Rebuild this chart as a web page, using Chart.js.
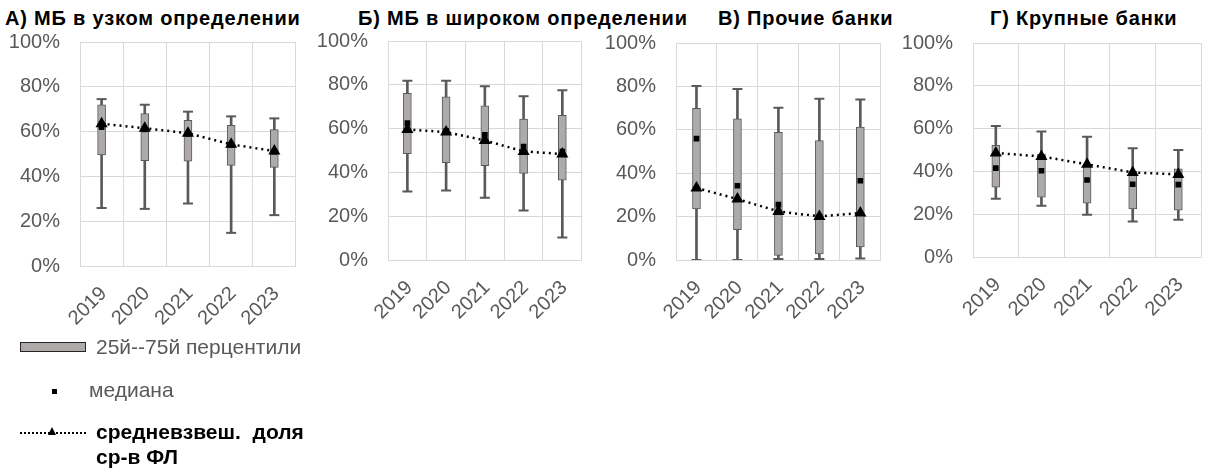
<!DOCTYPE html>
<html>
<head>
<meta charset="utf-8">
<script src="https://cdn.jsdelivr.net/npm/chart.js@4"></script>
<style>
  body { margin: 0; background: #fff; width: 1218px; height: 472px; position: relative; overflow: hidden;
         font-family: "Liberation Sans", Arial, sans-serif; }
  canvas { position: absolute; top: 0; }
  .ttl { position: absolute; top: 8px; font-weight: bold; font-size: 20px; line-height: 20px; letter-spacing: 0.8px;
         color: #000; white-space: nowrap; }
  .lg { position: absolute; font-size: 21px; line-height: 24px; color: #595959; white-space: nowrap; }
  .sw { position: absolute; }
</style>
</head>
<body>
<div class="ttl" style="left:5px">А) МБ в узком определении</div>
<div class="ttl" style="left:358px">Б) МБ в широком определении</div>
<div class="ttl" style="left:718px">В) Прочие банки</div>
<div class="ttl" style="left:990px">Г) Крупные банки</div>

<canvas id="cA" width="308" height="340" style="left:0px"></canvas>
<canvas id="cB" width="288" height="340" style="left:308px"></canvas>
<canvas id="cC" width="298" height="340" style="left:596px"></canvas>
<canvas id="cD" width="319" height="340" style="left:893px"></canvas>

<!-- легенда -->
<div class="sw" style="left:20px;top:342px;width:64px;height:8px;background:#aeaaaa;border:1.5px solid #262626"></div>
<div class="lg" style="left:96px;top:335px">25й--75й перцентили</div>
<div class="sw" style="left:52px;top:389px;width:5px;height:5px;background:#000"></div>
<div class="lg" style="left:89px;top:378px">медиана</div>
<div class="sw" style="left:20px;top:432px;width:66px;border-top:2px dotted #000"></div>
<div class="sw" style="left:48px;top:427px;width:0;height:0;border-left:4.5px solid transparent;border-right:4.5px solid transparent;border-bottom:8px solid #000"></div>
<div class="lg" style="left:96px;top:419px;color:#000;font-weight:bold;line-height:25px">средневзвеш.&nbsp; доля<br>ср-в ФЛ</div>

<script>
// годы
const years = ['2019', '2020', '2021', '2022', '2023'];

// А) МБ в узком определении
const aMin  = [25.9, 25.5, 27.9, 14.8, 22.7];
const aQ1   = [49.6, 47.0, 46.8, 44.9, 44.0];
const aQ3   = [71.9, 68.1, 65.0, 62.8, 60.9];
const aMax  = [74.5, 72.0, 68.9, 66.8, 65.9];
const aMed  = [62.0, 61.0, 59.0, 54.0, 51.0];
const aMean = [63.5, 61.5, 59.3, 54.3, 51.3];

// Б) МБ в широком определении
const bMin  = [31.3, 31.7, 28.4, 22.6, 10.3];
const bQ1   = [48.5, 44.4, 43.1, 39.5, 36.5];
const bQ3   = [76.1, 74.5, 70.4, 64.3, 66.1];
const bMax  = [81.9, 81.8, 79.3, 74.8, 77.5];
const bMed  = [62.5, 59.0, 57.1, 51.8, 49.5];
const bMean = [59.6, 58.4, 54.6, 49.6, 48.4];

// В) Прочие банки
const cMin  = [0.0, 0.0, 0.5, 0.5, 0.7];
const cQ1   = [23.5, 14.0, 2.1, 2.8, 6.0];
const cQ3   = [69.9, 65.1, 58.8, 55.0, 61.3];
const cMax  = [80.2, 78.8, 70.2, 74.3, 74.0];
const cMed  = [55.9, 34.2, 25.5, 20.0, 36.5];
const cMean = [33.2, 28.1, 22.4, 20.1, 21.7];

// Г) Крупные банки
const dMin  = [27.2, 23.9, 19.8, 16.6, 17.4];
const dQ1   = [32.6, 27.9, 25.2, 22.5, 21.9];
const dQ3   = [52.2, 48.0, 42.5, 40.0, 41.2];
const dMax  = [61.2, 58.7, 56.2, 50.8, 50.0];
const dMed  = [41.5, 40.3, 36.0, 34.0, 33.8];
const dMean = [48.6, 47.0, 43.3, 39.5, 38.6];

const yTickValues = [0, 20, 40, 60, 80, 100];

const FONT = '"Liberation Sans", Arial, sans-serif';
const GRID = '#d9d9d9';
const DARK = '#595959';

function makePanel(id, top, bottom, mins, q1, q3, maxs, med, mean) {
  const H = 340;
  const pairs = (lo, hi) => lo.map((v, i) => [v, hi[i]]);
  return new Chart(document.getElementById(id), {
    type: 'bar',
    data: {
      labels: years,
      datasets: [
        { type: 'line', data: mean, order: 0, borderColor: '#000', borderWidth: 2.5,
          borderDash: [2, 4], pointStyle: 'triangle', pointRadius: 7,
          pointBackgroundColor: '#000', pointBorderColor: '#000', pointBorderWidth: 0 },
        { type: 'line', data: med, order: 1, showLine: false, pointStyle: 'rect',
          pointRadius: 4, pointBackgroundColor: '#000', pointBorderWidth: 0 },
        { type: 'line', data: maxs, order: 2, showLine: false, pointStyle: 'line',
          pointRadius: 5, pointBorderColor: DARK, pointBorderWidth: 2 },
        { type: 'line', data: mins, order: 2, showLine: false, pointStyle: 'line',
          pointRadius: 5, pointBorderColor: DARK, pointBorderWidth: 2 },
        { data: pairs(q1, q3), order: 3, grouped: false, barThickness: 8,
          backgroundColor: '#aeaaaa', borderColor: DARK, borderWidth: 1, borderSkipped: false },
        { data: pairs(mins, maxs), order: 4, grouped: false, barThickness: 2,
          backgroundColor: DARK, borderWidth: 0 }
      ]
    },
    options: {
      responsive: false,
      animation: false,
      layout: { padding: { top: top, right: 1, left: 0, bottom: 0 } },
      plugins: { legend: { display: false }, tooltip: { enabled: false } },
      scales: {
        x: {
          grid: { color: GRID, drawTicks: false, offset: true },
          border: { color: GRID },
          ticks: { color: DARK, font: { family: FONT, size: 20 }, minRotation: 45, maxRotation: 45,
                   padding: 16, labelOffset: 2 },
          afterFit: (s) => { s.height = H - bottom; }
        },
        y: {
          min: 0, max: 100,
          afterBuildTicks: (s) => { s.ticks = yTickValues.map(v => ({ value: v })); },
          grid: { color: GRID, drawTicks: false },
          border: { color: GRID },
          ticks: { color: DARK, font: { family: FONT, size: 20 }, padding: 20,
                   callback: (v) => v + '%' },
          afterFit: (s) => { s.width = 80; }
        }
      }
    }
  });
}

makePanel('cA', 42, 266, aMin, aQ1, aQ3, aMax, aMed, aMean);
makePanel('cB', 41, 260, bMin, bQ1, bQ3, bMax, bMed, bMean);
makePanel('cC', 43, 260, cMin, cQ1, cQ3, cMax, cMed, cMean);
makePanel('cD', 43, 257, dMin, dQ1, dQ3, dMax, dMed, dMean);
</script>
</body>
</html>
